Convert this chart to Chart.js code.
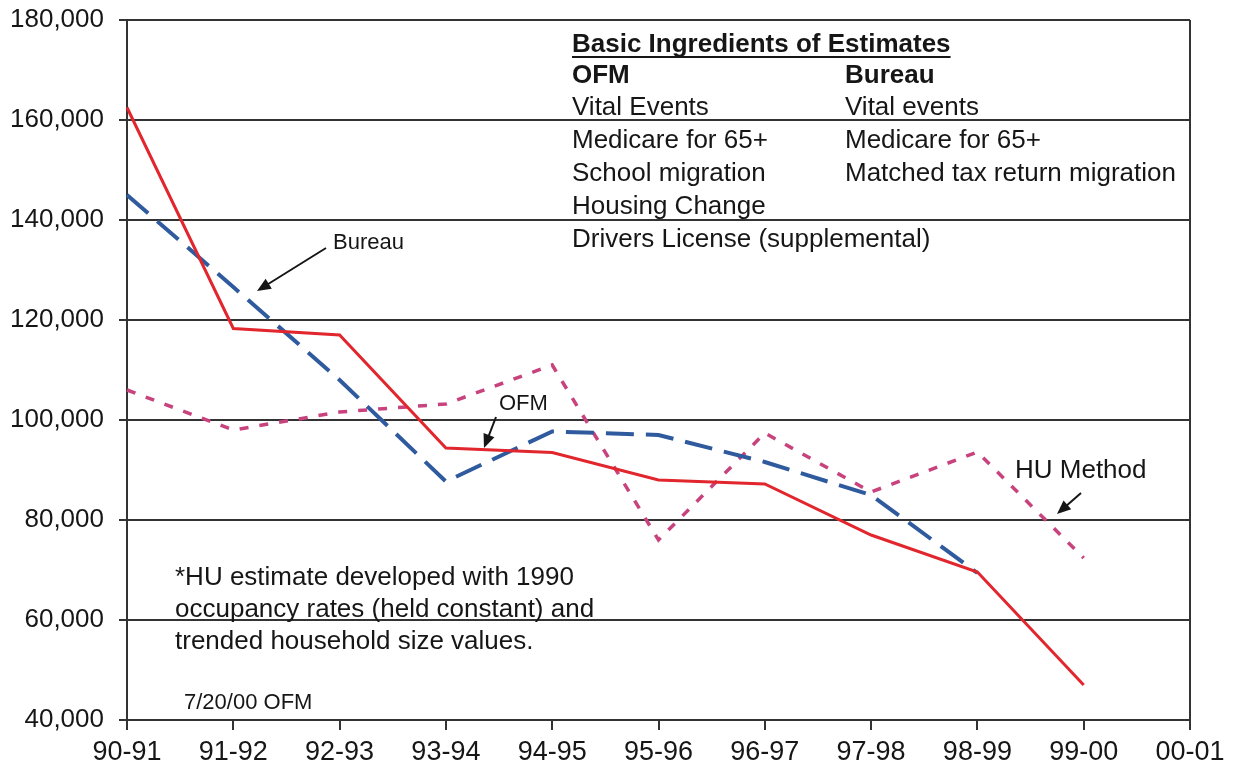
<!DOCTYPE html>
<html>
<head>
<meta charset="utf-8">
<script src="https://cdn.jsdelivr.net/npm/chart.js@4"></script>
<style>
  html, body { margin: 0; padding: 0; background: #fff; }
  #wrap { width: 1233px; height: 777px; }
</style>
</head>
<body>
<div id="wrap"><canvas id="estChart" width="1233" height="777"></canvas></div>
<script>
const years = ['90-91', '91-92', '92-93', '93-94', '94-95', '95-96', '96-97', '97-98', '98-99', '99-00', '00-01'];
const ofmValues = [162500, 118300, 117000, 94400, 93500, 88000, 87200, 77000, 69600, 47000, null];
const bureauValues = [145000, 126600, 108000, 87700, 97700, 97000, 91600, 85000, 69400, null, null];
const huValues = [106000, 98000, 101600, 103200, 111000, 76000, 97400, 85600, 93600, 72400, null];
const yTicks = [40000, 60000, 80000, 100000, 120000, 140000, 160000, 180000];

const FONT = "'Liberation Sans', Arial, sans-serif";
const INK = '#161616';

function arrow(ctx, x1, y1, x2, y2) {
  const a = Math.atan2(y2 - y1, x2 - x1);
  ctx.beginPath();
  ctx.moveTo(x1, y1);
  ctx.lineTo(x2 - 8 * Math.cos(a), y2 - 8 * Math.sin(a));
  ctx.stroke();
  ctx.beginPath();
  ctx.moveTo(x2, y2);
  ctx.lineTo(x2 - 15 * Math.cos(a - 0.4), y2 - 15 * Math.sin(a - 0.4));
  ctx.lineTo(x2 - 15 * Math.cos(a + 0.4), y2 - 15 * Math.sin(a + 0.4));
  ctx.closePath();
  ctx.fill();
}

const notes = {
  id: 'notes',
  afterDraw(chart) {
    const ctx = chart.ctx;
    const area = chart.chartArea;
    ctx.save();
    // right edge of plot box
    ctx.strokeStyle = '#333';
    ctx.lineWidth = 2;
    ctx.beginPath();
    ctx.moveTo(area.right, area.top);
    ctx.lineTo(area.right, area.bottom);
    ctx.stroke();

    ctx.fillStyle = INK;
    ctx.strokeStyle = INK;
    ctx.textBaseline = 'middle';
    ctx.textAlign = 'left';

    // ingredients box
    ctx.font = 'bold 26px ' + FONT;
    const title = 'Basic Ingredients of Estimates';
    ctx.fillText(title, 572, 45);
    const tw = ctx.measureText(title).width;
    ctx.lineWidth = 2;
    ctx.beginPath();
    ctx.moveTo(572, 57);
    ctx.lineTo(572 + tw, 57);
    ctx.stroke();
    ctx.fillText('OFM', 572, 76);
    ctx.fillText('Bureau', 845, 76);

    ctx.font = '26px ' + FONT;
    const leftCol = ['Vital Events', 'Medicare for 65+', 'School migration', 'Housing Change', 'Drivers License (supplemental)'];
    const rightCol = ['Vital events', 'Medicare for 65+', 'Matched tax return migration'];
    const rowY = [108, 141, 174, 207, 240];
    leftCol.forEach((t, i) => ctx.fillText(t, 572, rowY[i]));
    rightCol.forEach((t, i) => ctx.fillText(t, 845, rowY[i]));

    // footnote
    ctx.font = '26px ' + FONT;
    ctx.fillText('*HU estimate developed with 1990', 175, 578);
    ctx.fillText('occupancy rates (held constant) and', 175, 610);
    ctx.fillText('trended household size values.', 175, 642);
    ctx.font = '22px ' + FONT;
    ctx.fillText('7/20/00 OFM', 184, 703);

    // series callouts
    ctx.font = '22px ' + FONT;
    ctx.fillText('Bureau', 333, 243);
    ctx.fillText('OFM', 499, 404);
    ctx.font = '26px ' + FONT;
    ctx.fillText('HU Method', 1015, 471);

    ctx.lineWidth = 2;
    arrow(ctx, 326, 248, 257, 291);
    arrow(ctx, 496, 417, 484, 448);
    arrow(ctx, 1081, 493, 1057, 514);
    ctx.restore();
  }
};

new Chart(document.getElementById('estChart').getContext('2d'), {
  type: 'line',
  data: {
    labels: years,
    datasets: [
      {
        label: 'HU Method',
        data: huValues,
        borderColor: '#c8437d',
        borderWidth: 3.5,
        borderDash: [9, 11],
        pointRadius: 0,
        tension: 0,
        order: 3
      },
      {
        label: 'Bureau',
        data: bureauValues,
        borderColor: '#2f5b9e',
        borderWidth: 4,
        borderDash: [28, 12],
        pointRadius: 0,
        tension: 0,
        order: 2
      },
      {
        label: 'OFM',
        data: ofmValues,
        borderColor: '#e2262e',
        borderWidth: 3,
        pointRadius: 0,
        tension: 0,
        order: 1
      }
    ]
  },
  options: {
    responsive: false,
    animation: false,
    devicePixelRatio: 1,
    layout: { padding: { left: 0, right: 43, top: 20, bottom: 0 } },
    plugins: {
      legend: { display: false },
      tooltip: { enabled: false }
    },
    scales: {
      x: {
        offset: false,
        grid: { drawOnChartArea: false, drawTicks: true, tickLength: 10, color: '#333', lineWidth: 2 },
        border: { display: true, color: '#333', width: 2 },
        ticks: { color: INK, font: { family: FONT, size: 27 }, padding: 6, maxRotation: 0, autoSkip: false },
        afterFit(scale) {
          scale.height = 57;
          scale.paddingLeft = 0;
          scale.paddingRight = 0;
        }
      },
      y: {
        min: 40000,
        max: 180000,
        afterBuildTicks(scale) { scale.ticks = yTicks.map(v => ({ value: v })); },
        grid: { color: '#333', lineWidth: 2, drawTicks: true, tickLength: 8 },
        border: { display: true, color: '#333', width: 2 },
        ticks: {
          color: INK,
          font: { family: FONT, size: 26 },
          padding: 15,
          callback: v => v.toLocaleString('en-US')
        },
        afterFit(scale) {
          scale.width = 127;
          scale.paddingTop = 0;
          scale.paddingBottom = 0;
        }
      }
    }
  },
  plugins: [notes]
});
</script>
</body>
</html>
